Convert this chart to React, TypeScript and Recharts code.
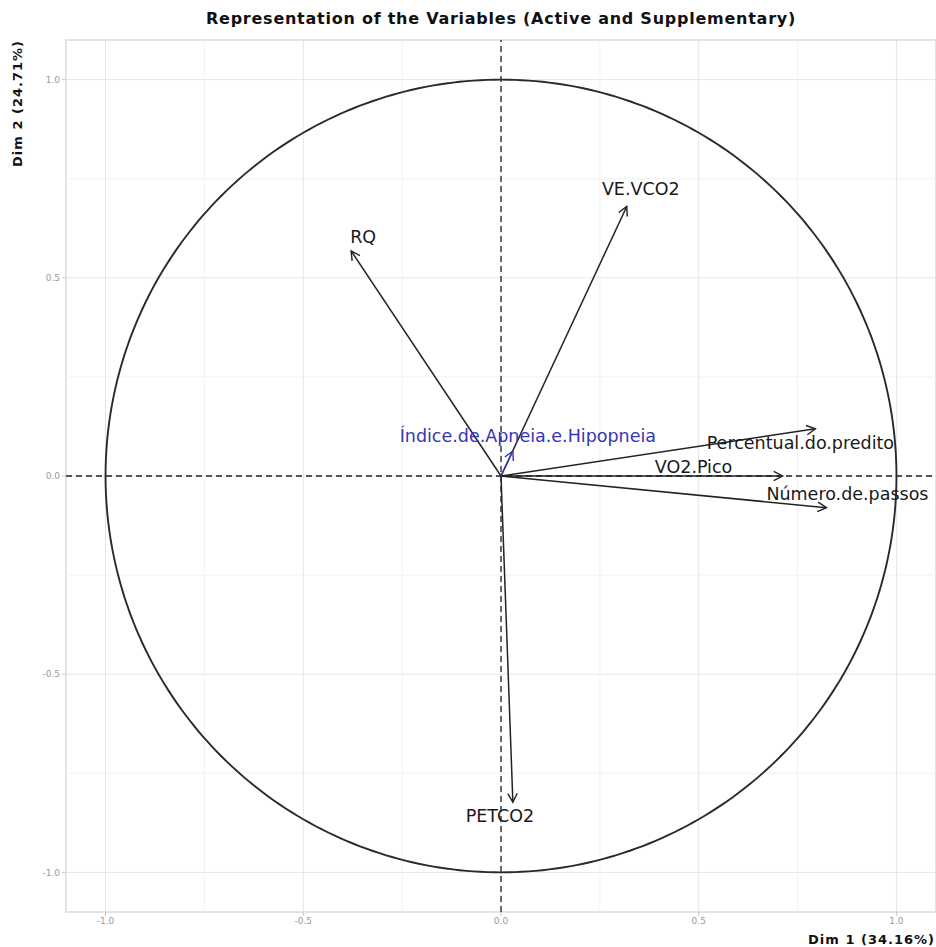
import React from 'react';
import {
  ScatterChart,
  Scatter,
  XAxis,
  YAxis,
  CartesianGrid,
  ReferenceLine,
  ReferenceArea,
} from 'recharts';

// PCA variable loadings (Dim 1 / Dim 2)
const activeNames = ['VE.VCO2', 'RQ', 'Percentual.do.predito', 'VO2.Pico', 'Número.de.passos', 'PETCO2'];
const activeDim1 = [0.318, -0.379, 0.795, 0.712, 0.823, 0.03];
const activeDim2 = [0.68, 0.568, 0.119, 0.0, -0.08, -0.823];

const suppNames = ['Índice.de.Apneia.e.Hipopneia'];
const suppDim1 = [0.03];
const suppDim2 = [0.063];

const axisTicks = [-1, -0.5, 0, 0.5, 1];
const minorTicks = [-0.75, -0.25, 0.25, 0.75];

const title = 'Representation of the Variables (Active and Supplementary)';
const xTitle = 'Dim 1 (34.16%)';
const yTitle = 'Dim 2 (24.71%)';

// label placement (px, from arrow tip to text centre) - mimics the repel layout
const labelOffset: Record<string, [number, number]> = {
  'VE.VCO2': [14, -17],
  RQ: [12, -14],
  'Percentual.do.predito': [-15, 14],
  'VO2.Pico': [-89, -9],
  'Número.de.passos': [21, -14],
  PETCO2: [-13, 14],
  'Índice.de.Apneia.e.Hipopneia': [15, -15],
};

const W = 936;
const H = 947;

// unit correlation circle
const circle = Array.from({ length: 361 }, (_, i) => {
  const a = (i * Math.PI) / 180;
  return { x: Math.cos(a), y: Math.sin(a) };
});

const tickStyle = { fontSize: 9, fill: '#9a9a9a', fontFamily: 'DejaVu Sans' };

function makeArrowShape(color: string) {
  return (props: any) => {
    const { cx, cy, payload } = props;
    if (!payload || !payload.name) return <g />;
    const len = Math.hypot(payload.x, payload.y) || 1;
    const ux = payload.x / len;
    const uy = -payload.y / len;
    const L = 10;
    const ang = (28 * Math.PI) / 180;
    const rot = (s: number) => [
      cx - L * (ux * Math.cos(s * ang) - uy * Math.sin(s * ang)),
      cy - L * (ux * Math.sin(s * ang) + uy * Math.cos(s * ang)),
    ];
    const p1 = rot(1);
    const p2 = rot(-1);
    const off = labelOffset[payload.name] || [0, 0];
    return (
      <g>
        <polyline
          points={`${p1[0]},${p1[1]} ${cx},${cy} ${p2[0]},${p2[1]}`}
          fill="none"
          stroke={color}
          strokeWidth={1.4}
        />
        <text
          x={cx + off[0]}
          y={cy + off[1]}
          textAnchor="middle"
          dominantBaseline="central"
          fontSize={17.5}
          fontFamily="DejaVu Sans"
          fill={color === '#222222' ? '#1a1a1a' : color}
        >
          {payload.name}
        </text>
      </g>
    );
  };
}

const blackArrow = makeArrowShape('#222222');
const blueArrow = makeArrowShape('#3535b8');

export default function App() {
  const active = activeNames.map((name, i) => [
    { x: 0, y: 0 },
    { x: activeDim1[i], y: activeDim2[i], name },
  ]);
  const supp = suppNames.map((name, i) => [
    { x: 0, y: 0 },
    { x: suppDim1[i], y: suppDim2[i], name },
  ]);

  return (
    <div style={{ position: 'absolute', left: 0, top: 0, width: W, height: H, background: '#fff' }}>
      <div
        style={{
          position: 'absolute',
          left: 66,
          top: 9,
          width: 870,
          textAlign: 'center',
          fontFamily: 'DejaVu Sans',
          fontWeight: 'bold',
          fontSize: 16,
          letterSpacing: 0.75,
          color: '#111',
        }}
      >
        {title}
      </div>
      <ScatterChart width={W} height={H} margin={{ top: 40, right: 0, bottom: 0, left: 1 }}>
        <ReferenceArea
          x1={-1.1}
          x2={1.1}
          y1={-1.1}
          y2={1.1}
          fill="none"
          stroke="#e3e3e3"
          strokeWidth={2}
        />
        {minorTicks.map((t) => (
          <ReferenceLine key={'mx' + t} x={t} stroke="#f2f2f2" strokeWidth={1} />
        ))}
        {minorTicks.map((t) => (
          <ReferenceLine key={'my' + t} y={t} stroke="#f2f2f2" strokeWidth={1} />
        ))}
        <CartesianGrid stroke="#e6e6e6" strokeWidth={1} />
        <XAxis
          type="number"
          dataKey="x"
          domain={[-1.1, 1.1]}
          ticks={axisTicks}
          allowDataOverflow
          tickFormatter={(v: number) => v.toFixed(1)}
          height={35}
          axisLine={false}
          tickLine={{ stroke: '#c8c8c8' }}
          tickSize={4}
          tick={tickStyle}
          label={{
            content: () => (
              <text
                x={935}
                y={912 + 32}
                textAnchor="end"
                fontFamily="DejaVu Sans"
                fontWeight="bold"
                fontSize={13}
                letterSpacing={1}
                fill="#111"
              >
                {xTitle}
              </text>
            ),
          }}
        />
        <YAxis
          type="number"
          dataKey="y"
          domain={[-1.1, 1.1]}
          ticks={axisTicks}
          allowDataOverflow
          tickFormatter={(v: number) => v.toFixed(1)}
          width={65}
          axisLine={false}
          tickLine={{ stroke: '#c8c8c8' }}
          tickSize={4}
          tick={tickStyle}
          label={{
            content: () => (
              <text
                x={0}
                y={0}
                transform="translate(22, 40) rotate(-90)"
                textAnchor="end"
                fontFamily="DejaVu Sans"
                fontWeight="bold"
                fontSize={13}
                letterSpacing={1}
                fill="#111"
              >
                {yTitle}
              </text>
            ),
          }}
        />
        <Scatter
          data={circle}
          line={{ stroke: '#2a2a2a', strokeWidth: 1.9 }}
          lineType="joint"
          shape={() => <g />}
          isAnimationActive={false}
        />
        <ReferenceLine x={0} stroke="#222" strokeWidth={1.3} strokeDasharray="6 4" />
        <ReferenceLine y={0} stroke="#222" strokeWidth={1.3} strokeDasharray="6 4" />
        {active.map((d, i) => (
          <Scatter
            key={activeNames[i]}
            data={d}
            line={{ stroke: '#222222', strokeWidth: 1.5 }}
            lineType="joint"
            shape={blackArrow}
            isAnimationActive={false}
          />
        ))}
        {supp.map((d, i) => (
          <Scatter
            key={suppNames[i]}
            data={d}
            line={{ stroke: '#3535b8', strokeWidth: 1.4 }}
            lineType="joint"
            shape={blueArrow}
            isAnimationActive={false}
          />
        ))}
      </ScatterChart>
    </div>
  );
}
